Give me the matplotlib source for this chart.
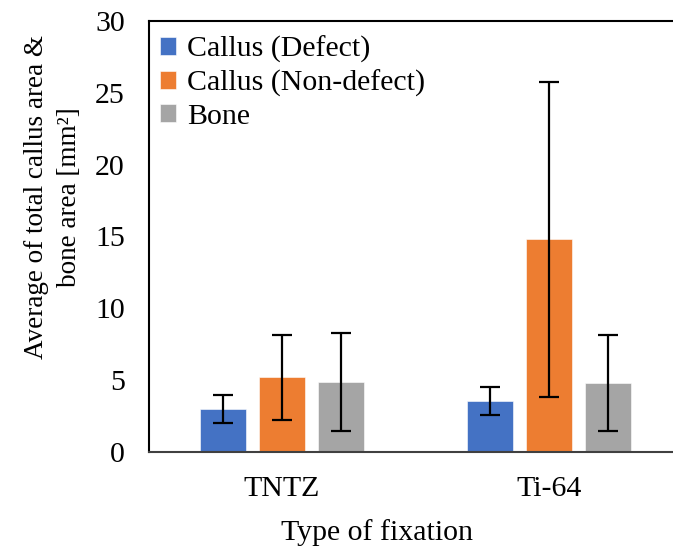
import numpy as np
import matplotlib
matplotlib.use("Agg")
import matplotlib.pyplot as plt

plt.rcParams['font.family'] = ['Liberation Serif', 'DejaVu Serif']

# data
categories = ["TNTZ", "Ti-64"]
series = ["Callus (Defect)", "Callus (Non-defect)", "Bone"]
means = {
    "Callus (Defect)": [3.0, 3.55],
    "Callus (Non-defect)": [5.2, 14.8],
    "Bone": [4.85, 4.8],
}
errors = {
    "Callus (Defect)": [1.0, 1.0],
    "Callus (Non-defect)": [2.95, 10.95],
    "Bone": [3.4, 3.35],
}
colours = ["#4472C4", "#ED7D31", "#A5A5A5"]

fig = plt.figure(figsize=(6.73, 5.57), dpi=100)
# axes runs past the right edge, like the cropped original
ax = fig.add_axes([148.5 / 673, 1 - 452 / 557, 534 / 673, 431 / 557])

x = np.arange(len(categories))
width = 0.172
step = 0.221
for k, name in enumerate(series):
    ax.bar(x + (k - 1) * step, means[name], width, color=colours[k],
           edgecolor="white", linewidth=0.4, label=name,
           yerr=errors[name], capsize=7,
           error_kw=dict(ecolor="black", elinewidth=1.6, capthick=1.6))

ax.set_xlim(-0.5, 1.5)
ax.set_ylim(0, 30)
ax.set_yticks(np.arange(0, 31, 5))
ax.set_xticks(x)
ax.set_xticklabels(categories)
ax.tick_params(axis="y", length=0, pad=17, labelsize=21.5)
ax.tick_params(axis="x", length=0, pad=17, labelsize=21.5)

for side in ["left", "top"]:
    ax.spines[side].set_color("black")
    ax.spines[side].set_linewidth(1.5)
ax.spines["bottom"].set_color("#404040")
ax.spines["bottom"].set_linewidth(1.5)
ax.spines["right"].set_visible(False)

fig.text(53 / 673, 1 - 197 / 557, "Average of total callus area &\nbone area [mm²]",
         rotation=90, ha="center", va="center", multialignment="center",
         fontsize=19.5, linespacing=1.45)
fig.text(377 / 673, 1 - 533 / 557, "Type of fixation", ha="center", va="center", fontsize=21.5)

ax.legend(loc="upper left", bbox_to_anchor=(160 / 673, 1 - 36 / 557),
          bbox_transform=fig.transFigure, frameon=False, fontsize=21.5,
          handlelength=0.55, handleheight=0.55, handletextpad=0.35,
          labelspacing=0.22, borderpad=0, borderaxespad=0)

fig.savefig("out.png", dpi=100)
